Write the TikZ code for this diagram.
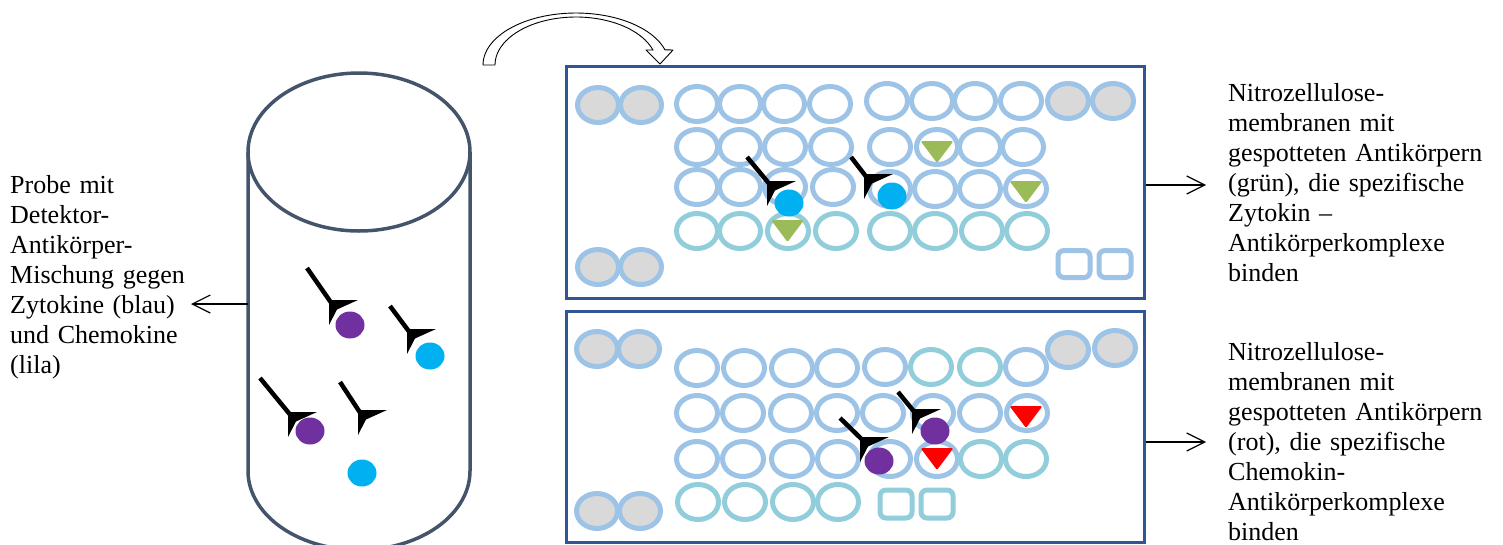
\documentclass[tikz,border=0pt]{standalone}
\usepackage{fontspec}
\setmainfont{Liberation Serif}
\usetikzlibrary{arrows.meta}
\definecolor{cylc}{RGB}{68,84,106}
\definecolor{framec}{RGB}{47,85,151}
\definecolor{lbc}{RGB}{157,195,230}
\definecolor{teal}{RGB}{146,205,220}
\definecolor{grayc}{RGB}{217,217,217}
\definecolor{greenc}{RGB}{155,187,89}
\definecolor{bluec}{RGB}{0,176,240}
\definecolor{purplec}{RGB}{112,48,160}
\newcommand\antib[4]{%
  \draw[line width=4.5pt] (#1,#2) -- ($(#3,#4)+(2,2.5)$);
  \fill (#3,#4) -- ++(29,0) -- ++(-21,9.5) -- ++(-8,15.5) -- cycle;}
\newcommand\mytri[3]{%
  \fill[#1,rounded corners=1.5pt] (#2-16.5,#3) -- (#2+16.5,#3) -- (#2,#3+22) -- cycle;}
\usetikzlibrary{calc}
\begin{document}
\begin{tikzpicture}[x=1pt,y=-1pt,
  txt/.style={font=\fontsize{26}{30}\selectfont, align=left, inner sep=0pt, anchor=base west},
  cylst/.style={draw=cylc, line width=3.5pt},
  frame/.style={draw=framec, line width=3pt, rectangle, inner sep=0pt},
  ring/.style={draw=lbc, line width=5pt},
  tring/.style={draw=teal, line width=5pt},
  gspot/.style={draw=lbc, fill=grayc, line width=5pt},
  arr/.style={line width=1.2pt, -{Straight Barb[length=18pt,width=18pt]}}]
\useasboundingbox (0,0) rectangle (1503,544);

% texts
\node[txt, text width=200pt] (probe) at (10,193) {Probe mit\\Detektor-\\Antikörper-\\Mischung gegen\\Zytokine (blau)\\und Chemokine\\(lila)};
\node[txt, text width=275pt] (t1) at (1228,101) {Nitrozellulose-\\membranen mit\\gespotteten Antikörpern\\(grün), die spezifische\\Zytokin –\\Antikörperkomplexe\\binden};
\node[txt, text width=275pt] (t2) at (1228,360) {Nitrozellulose-\\membranen mit\\gespotteten Antikörpern\\(rot), die spezifische\\Chemokin-\\Antikörperkomplexe\\binden};

% cylinder
\draw[cylst] (359,152) ellipse [x radius=111, y radius=79];
\draw[cylst] (248,152) -- (248,471) -- plot[domain=0:180,samples=60] ({359-111*cos(\x)},{471+79*sin(\x)}) -- (470,152);

% membranes
\node[frame, minimum width=578pt, minimum height=232pt] (m1) at (855,182) {};
\node[frame, minimum width=578pt, minimum height=231pt] (m2) at (855,426.5) {};

% curved block arrow
\draw[fill=white, line width=0.9pt, line join=round]
  plot[domain=180:17, samples=50] ({576+93*cos(\x)},{65-52*sin(\x)})
  -- (673,50) -- (660,64) -- (646,50) -- (653,50)
  -- plot[domain=18:180, samples=50] ({576+81*cos(\x)},{65-48*sin(\x)}) -- cycle;

% connectors
\coordinate (cylL) at (248,304);
\coordinate (pTip) at (191,304);
\draw[arr] (cylL) -- (pTip);
\coordinate (t1tip) at (1206,185);
\draw[arr] (m1.east |- t1tip) -- (t1tip);
\coordinate (t2tip) at (1206,442);
\draw[arr] (m2.east |- t2tip) -- (t2tip);

% ---- top membrane spots
\foreach \a/\b in {598/105,641/105,598/267,641/267,1068/101,1113/101}
  \draw[gspot] (\a,\b) ellipse [x radius=20.5, y radius=17.5];
\foreach \a/\b in {697/104,740/104,784/104,830/104,887/101,932/101,975/101,1021/101,
  697/147,740/147,785/147,831/147,890/147,937/147,980/147,1023/147,
  697/187,740/187,785/187,833/187,890/189,935/189,980/189,1026/189}
  \draw[ring] (\a,\b) ellipse [x radius=20.5, y radius=17.5];
\foreach \a/\b in {697/231,740/231,788/231,836/231,890/231,935/231,982/231,1027/231}
  \draw[tring] (\a,\b) ellipse [x radius=20.5, y radius=17.5];
\foreach \a in {1074,1115}
  \draw[ring, rounded corners=6pt] (\a-16,250.5) rectangle (\a+16,277.5);

% ---- bottom membrane spots
\foreach \a/\b in {597/349,639/349,597/511,640/511,1068/350,1115/348}
  \draw[gspot] (\a,\b) ellipse [x radius=20.5, y radius=17.5];
\foreach \a/\b in {697/368,744/368,792/368,837/368,885/367,1026/367,
  697/413,743/413,791/413,837/413,883/413,933/413,980/413,1027/413,
  697/459,743/459,792/459,838/459,890/459,937/459}
  \draw[ring] (\a,\b) ellipse [x radius=20.5, y radius=17.5];
\foreach \a/\b in {931/367,980/367,981/459,1026/459,698/502,745/502,793/502,838/502}
  \draw[tring] (\a,\b) ellipse [x radius=20.5, y radius=17.5];
\foreach \a in {896,937}
  \draw[tring, rounded corners=6pt] (\a-16,490) rectangle (\a+16,518);

% triangles
\mytri{greenc}{937}{141}
\mytri{greenc}{1026}{181}
\mytri{greenc}{787.5}{220}
\mytri{red}{1026}{406}
\mytri{red}{937}{448}

% dots
\foreach \a/\b in {789/203,892/196,430/356,362/473}
  \fill[bluec] (\a,\b) ellipse [x radius=14.5, y radius=13.5];
\foreach \a/\b in {935/431,879/461,350/325,310/431}
  \fill[purplec] (\a,\b) ellipse [x radius=14.5, y radius=13.5];

% antibodies
\antib{307}{268}{329}{300}
\antib{390}{306}{407}{329}
\antib{260}{378}{288}{412}
\antib{340}{382}{358}{410}
\antib{747}{157}{767}{181}
\antib{851}{157}{864}{174}
\antib{898}{392}{912}{409}
\antib{840}{418}{860}{437}
\end{tikzpicture}
\end{document}
